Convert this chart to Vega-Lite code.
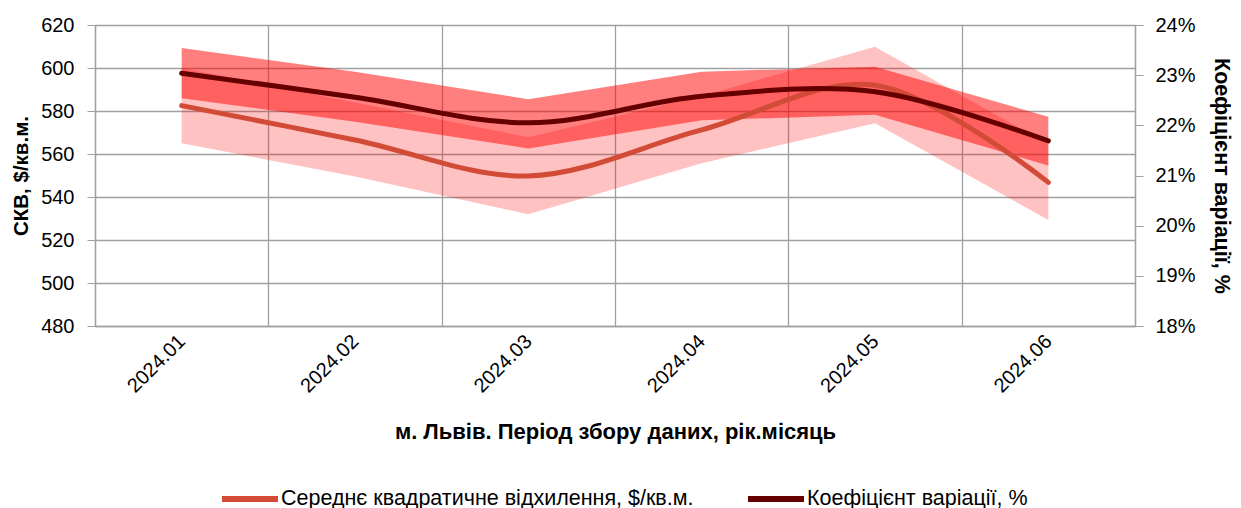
{
  "$schema": "https://vega.github.io/schema/vega-lite/v6.json",
  "width": 1040,
  "height": 301,
  "autosize": "none",
  "padding": {"left": 95, "top": 25, "right": 106, "bottom": 182},
  "background": "white",
  "config": {
    "view": {"stroke": null},
    "font": "Liberation Sans",
    "axis": {
      "labelFont": "Liberation Sans",
      "titleFont": "Liberation Sans",
      "labelFontSize": 20,
      "titleFontSize": 21,
      "titleFontWeight": "bold",
      "labelColor": "#000000",
      "titleColor": "#000000",
      "domainColor": "#a0a0a0",
      "tickColor": "#a0a0a0",
      "gridColor": "#a0a0a0",
      "gridOpacity": 1,
      "domainWidth": 1.3,
      "gridWidth": 1.3
    },
    "legend": {
      "labelFont": "Liberation Sans",
      "labelFontSize": 21.5,
      "labelColor": "#000000",
      "labelLimit": 700
    }
  },
  "data": {
    "values": [
      {"month": "2024.01", "skv": 582.5, "skv_lo": 565.0, "skv_hi": 600.0, "cv": 0.2304, "cv_lo": 0.2254, "cv_hi": 0.2354},
      {"month": "2024.02", "skv": 566.5, "skv_lo": 549.5, "skv_hi": 584.0, "cv": 0.2256, "cv_lo": 0.2207, "cv_hi": 0.2307},
      {"month": "2024.03", "skv": 549.8, "skv_lo": 532.0, "skv_hi": 567.8, "cv": 0.2205, "cv_lo": 0.2154, "cv_hi": 0.2252},
      {"month": "2024.04", "skv": 571.2, "skv_lo": 555.7, "skv_hi": 587.0, "cv": 0.2258, "cv_lo": 0.2210, "cv_hi": 0.2307},
      {"month": "2024.05", "skv": 592.0, "skv_lo": 574.3, "skv_hi": 609.9, "cv": 0.2267, "cv_lo": 0.2221, "cv_hi": 0.2317},
      {"month": "2024.06", "skv": 546.8, "skv_lo": 529.3, "skv_hi": 564.5, "cv": 0.2169, "cv_lo": 0.2120, "cv_hi": 0.2217}
    ]
  },
  "encoding": {
    "x": {
      "field": "month",
      "type": "ordinal",
      "bandPosition": 0.5,
      "scale": {"type": "band", "paddingInner": 0, "paddingOuter": 0},
      "axis": {
        "title": "м. Львів. Період збору даних, рік.місяць",
        "titleFontSize": 22,
        "tickBand": "extent",
        "grid": true,
        "ticks": false,
        "labelAngle": -45,
        "labelAlign": "right",
        "labelBaseline": "middle",
        "labelPadding": 12,
        "titlePadding": 25
      }
    }
  },
  "layer": [
    {
      "mark": {"type": "area", "color": "#ff0000", "opacity": 0.24, "interpolate": "linear"},
      "encoding": {
        "y": {
          "field": "skv_lo",
          "type": "quantitative",
          "scale": {"domain": [480, 620], "nice": false, "zero": false},
          "axis": {
            "orient": "left",
            "title": "СКВ, $/кв.м.",
            "titleFontSize": 20.5,
            "values": [480, 500, 520, 540, 560, 580, 600, 620],
            "grid": true,
            "tickSize": 8,
            "labelPadding": 13,
            "titlePadding": 9
          }
        },
        "y2": {"field": "skv_hi"}
      }
    },
    {
      "mark": {"type": "area", "color": "#ff0000", "opacity": 0.5, "interpolate": "linear"},
      "encoding": {
        "y": {
          "field": "cv_lo",
          "type": "quantitative",
          "scale": {"domain": [0.18, 0.24], "nice": false, "zero": false},
          "axis": {
            "orient": "right",
            "title": "Коефіцієнт варіації, %",
            "titleFontSize": 21.5,
            "values": [0.18, 0.19, 0.2, 0.21, 0.22, 0.23, 0.24],
            "format": ".0%",
            "grid": false,
            "tickSize": 8,
            "labelPadding": 12,
            "titlePadding": 14
          }
        },
        "y2": {"field": "cv_hi"}
      }
    },
    {
      "mark": {"type": "line", "strokeWidth": 5, "strokeCap": "round", "interpolate": "catmull-rom"},
      "encoding": {
        "y": {
          "field": "skv",
          "type": "quantitative",
          "scale": {"domain": [480, 620], "nice": false, "zero": false},
          "axis": null
        },
        "color": {
          "datum": "Середнє квадратичне відхилення, $/кв.м.",
          "type": "nominal",
          "scale": {
            "domain": ["Середнє квадратичне відхилення, $/кв.м.", "Коефіцієнт варіації, %"],
            "range": ["#d24b37", "#660000"]
          },
          "legend": {
            "orient": "none",
            "legendX": 124,
            "legendY": 443,
            "direction": "horizontal",
            "title": null,
            "symbolType": "stroke",
            "symbolSize": 3136,
            "symbolStrokeWidth": 6,
            "labelOffset": 0,
            "columnPadding": 42
          }
        }
      }
    },
    {
      "mark": {"type": "line", "strokeWidth": 5, "strokeCap": "round", "interpolate": "catmull-rom"},
      "encoding": {
        "y": {
          "field": "cv",
          "type": "quantitative",
          "scale": {"domain": [0.18, 0.24], "nice": false, "zero": false},
          "axis": null
        },
        "color": {"datum": "Коефіцієнт варіації, %", "type": "nominal"}
      }
    }
  ],
  "resolve": {"scale": {"y": "independent"}}
}
